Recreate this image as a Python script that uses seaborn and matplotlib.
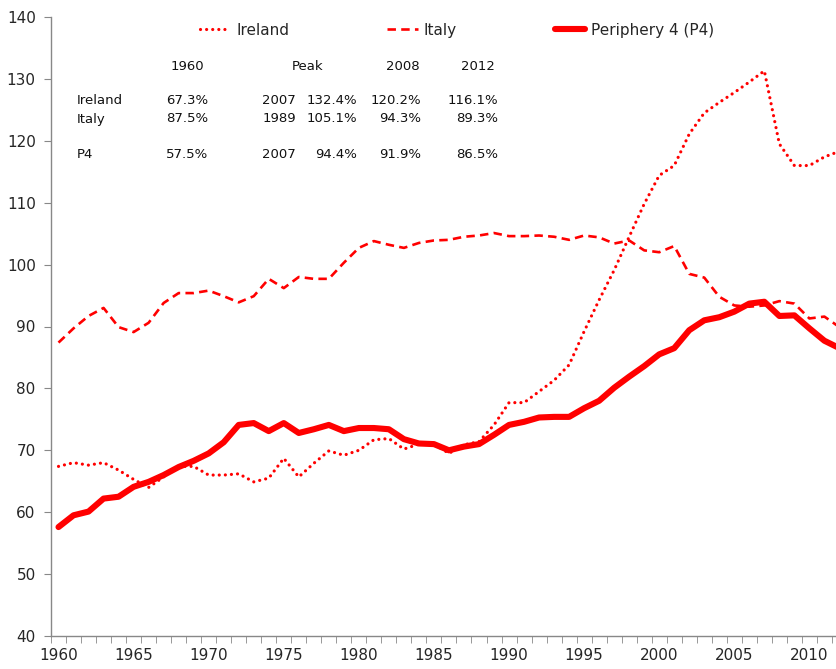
import pandas as pd
import numpy as np
import seaborn as sns
import matplotlib.pyplot as plt

# data (debt ratios, % of GDP)
years = list(range(1960, 2013))

ireland = [67.4, 68.0, 67.6, 68.0, 66.8, 65.3, 64.0, 65.7, 67.4, 67.4,
           66.0, 66.0, 66.2, 64.9, 65.5, 68.7, 65.7, 67.9, 69.9, 69.2,
           70.0, 71.7, 71.9, 70.2, 71.0, 71.0, 69.5, 70.9, 71.4, 74.1,
           77.7, 77.7, 79.5, 81.3, 83.8, 89.2, 94.3, 99.1, 104.5, 109.8,
           114.4, 116.0, 121.1, 124.5, 126.2, 127.8, 129.5, 131.3, 119.5, 116.0,
           116.0, 117.4, 118.3]

italy = [87.4, 89.7, 91.7, 93.0, 89.9, 89.1, 90.6, 93.8, 95.4, 95.4,
         95.8, 94.9, 93.9, 94.9, 97.7, 96.2, 98.0, 97.7, 97.7, 100.3,
         102.7, 103.8, 103.2, 102.7, 103.5, 103.9, 104.0, 104.5, 104.7, 105.1,
         104.6, 104.6, 104.7, 104.5, 104.0, 104.7, 104.4, 103.4, 103.9, 102.3,
         102.0, 103.0, 98.5, 97.9, 94.8, 93.4, 93.2, 93.4, 94.1, 93.7,
         91.3, 91.6, 89.9]

p4 = [57.6, 59.5, 60.1, 62.2, 62.5, 64.1, 64.9, 66.0, 67.3, 68.3,
      69.5, 71.3, 74.1, 74.4, 73.1, 74.4, 72.8, 73.4, 74.1, 73.1,
      73.6, 73.6, 73.4, 71.8, 71.1, 71.0, 70.0, 70.6, 71.0, 72.5,
      74.1, 74.6, 75.3, 75.4, 75.4, 76.8, 78.0, 80.1, 81.9, 83.6,
      85.5, 86.5, 89.4, 91.0, 91.5, 92.4, 93.7, 94.0, 91.7, 91.8,
      89.7, 87.7, 86.5]

# summary table shown in the upper left
table_cols = ['1960', 'Peak', '2008', '2012']
table_rows = ['Ireland', 'Italy', 'P4']
t_1960 = ['67.3%', '87.5%', '57.5%']
t_peak_year = ['2007', '1989', '2007']
t_peak = ['132.4%', '105.1%', '94.4%']
t_2008 = ['120.2%', '94.3%', '91.9%']
t_2012 = ['116.1%', '89.3%', '86.5%']

df = pd.DataFrame({'year': years, 'Ireland': ireland, 'Italy': italy,
                   'Periphery 4 (P4)': p4})

sns.set_style('white')
plt.rcParams['font.family'] = ['DejaVu Sans']

W, H = 837, 669
fig = plt.figure(figsize=(W / 100, H / 100), dpi=100)
ax = fig.add_axes([51 / W, 1 - 636 / H, 1 - 51 / W + 0.002, (636 - 17) / H])

red = '#FF0000'
sns.lineplot(data=df, x='year', y='Ireland', ax=ax, color=red, lw=2.3,
             label='Ireland', linestyle=(0, (0.01, 1.9)),
             dash_capstyle='round')
sns.lineplot(data=df, x='year', y='Italy', ax=ax, color=red, lw=1.9,
             label='Italy', linestyle=(0, (3.2, 2.0)))
sns.lineplot(data=df, x='year', y='Periphery 4 (P4)', ax=ax, color=red,
             lw=4.4, label='Periphery 4 (P4)')

ax.set_xlim(1959.55, 2011.95)
ax.set_ylim(40, 140)
ax.set_yticks(range(40, 141, 10))
ax.set_xticks(range(1960, 2011, 5))
ax.set_xticks(np.arange(1959.5, 2012, 1), minor=True)
ax.set_xlabel('')
ax.set_ylabel('')

for s in ['top', 'right']:
    ax.spines[s].set_visible(False)
for s in ['left', 'bottom']:
    ax.spines[s].set_color('#888888')
    ax.spines[s].set_linewidth(1.0)

ax.tick_params(axis='y', which='major', direction='out', length=5,
               color='#888888', labelsize=11, pad=6, left=True)
ax.tick_params(axis='x', which='major', length=0, labelsize=11, pad=9,
               bottom=True)
ax.tick_params(axis='x', which='minor', direction='out', length=5,
               color='#888888', bottom=True)

leg = ax.legend(loc='upper left', bbox_to_anchor=(186 / W, 1 - 9 / H),
                bbox_transform=fig.transFigure, ncol=3, frameon=False,
                fontsize=11, handlelength=2.0, handletextpad=0.4,
                columnspacing=6.4)


def ftxt(x, y, s, ha='left'):
    fig.text(x / W, 1 - y / H, s, ha=ha, va='center', fontsize=9.5,
             color='#111111')


# header row
ftxt(187, 66, table_cols[0], 'center')
ftxt(308, 66, table_cols[1], 'center')
ftxt(403, 66, table_cols[2], 'center')
ftxt(478, 66, table_cols[3], 'center')

row_y = [101, 119, 154]
for i, name in enumerate(table_rows):
    y = row_y[i]
    ftxt(77, y, name)
    ftxt(208, y, t_1960[i], 'right')
    ftxt(296, y, t_peak_year[i], 'right')
    ftxt(357, y, t_peak[i], 'right')
    ftxt(421, y, t_2008[i], 'right')
    ftxt(498, y, t_2012[i], 'right')

fig.savefig('out.png', dpi=100)
